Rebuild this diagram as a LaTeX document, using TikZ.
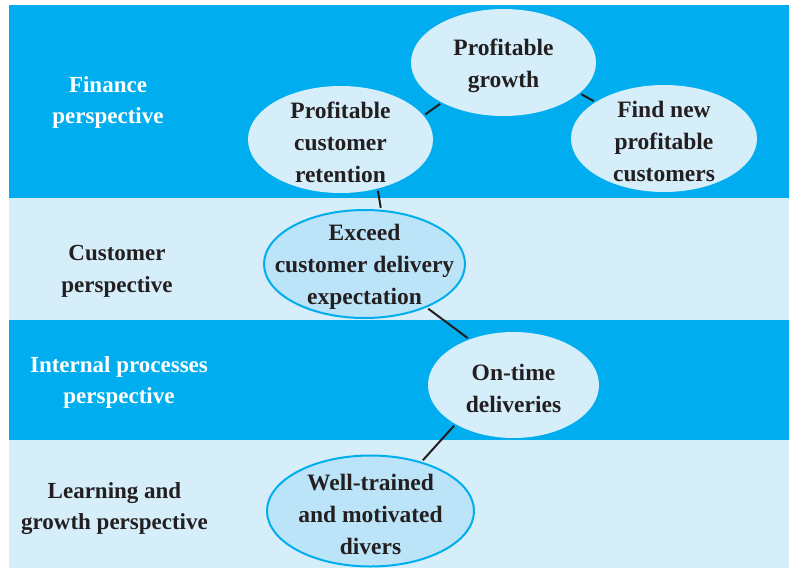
\documentclass[tikz,border=0pt]{standalone}
\usepackage{fontspec}
\setmainfont{Liberation Serif}
\usetikzlibrary{shapes.geometric}
\definecolor{deepsky}{HTML}{00AEEF}
\definecolor{palesky}{HTML}{D6EEFA}
\definecolor{midsky}{HTML}{BCE4F8}
\definecolor{ink}{HTML}{231F20}
\tikzset{
  goal/.style={ellipse, fill = palesky, inner sep=0pt},
  ringed/.style={goal, fill = midsky, draw = deepsky, line width=2pt},
  words/.style={align=center, text=ink, yshift=-3pt, font=\bfseries\fontsize{23.5}{32}\selectfont},
  side/.style={align=center, yshift=-2.5pt, font=\bfseries\fontsize{23}{31.5}\selectfont},
  link/.style={draw = ink, line width=2pt, shorten <=2pt, shorten >=2pt}
}
\begin{document}
\begin{tikzpicture}[x=1pt,y=-1pt]
            \useasboundingbox (0,0) rectangle (789,568);
            \fill [white] (0,0) rectangle (789,568);
            \fill [deepsky] (9,5) rectangle (789,198);
            \fill [palesky] (9,198) rectangle (789,320);
            \fill [deepsky] (9,320) rectangle (789,440);
            \fill [palesky] (9,440) rectangle (789,568);
            \node [side, text=white] (finance) at (108,100) {Finance\\perspective};
            \node [side, text=ink] (customer) at (117,269) {Customer\\perspective};
            \node [side, text=white] (internal) at (119,380) {Internal processes\\perspective};
            \node [side, text=ink] (learning) at (114.5,506) {Learning and\\growth perspective};
            \node [goal, minimum width=185, minimum height=107,
                   label={[words]center:Profitable\\growth}] (growth) at (503.5,62.5) {};
            \node [goal, minimum width=186, minimum height=107,
                   label={[words]center:Find new\\profitable\\customers}] (find) at (664,138.5) {};
            \node [goal, minimum width=185, minimum height=107,
                   label={[words]center:Profitable\\customer\\retention}] (retention) at (340.5,139.5) {};
            \node [ringed, minimum width=201, minimum height=108,
                   label={[words]center:Exceed\\customer delivery\\expectation}] (exceed) at (364.5,264) {};
            \node [goal, minimum width=171, minimum height=106,
                   label={[words]center:On-time\\deliveries}] (ontime) at (513.5,385) {};
            \node [ringed, minimum width=207, minimum height=111,
                   label={[words]center:Well-trained\\and motivated\\divers}] (trained) at (370.5,511) {};
            \draw [link] (retention.16) -- (growth.213);
            \draw [link] (growth.-22) -- (find.152);
            \draw [link] (retention.-53) -- (exceed.73);
            \draw [link] (exceed.-35) -- (ontime.134);
            \draw [link] (ontime.214) -- (trained.44);
        \end{tikzpicture}
\end{document}
